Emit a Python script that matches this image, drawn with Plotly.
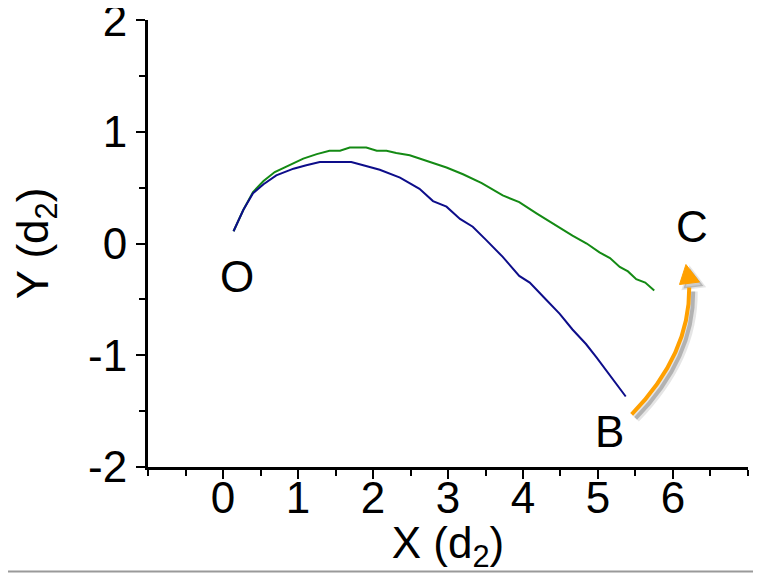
import plotly.graph_objects as go

# ---- data ----
green_x = [0.14, 0.27, 0.40, 0.54, 0.69, 0.85, 1.07, 1.25, 1.42, 1.56, 1.69, 1.91, 2.05, 2.18,
           2.31, 2.49, 2.71, 2.98, 3.20, 3.45, 3.73, 3.95, 4.18, 4.42, 4.66, 4.85, 5.02, 5.16,
           5.29, 5.40, 5.51, 5.63, 5.75]
green_y = [0.11, 0.30, 0.46, 0.56, 0.64, 0.69, 0.76, 0.80, 0.83, 0.83, 0.86, 0.86, 0.83, 0.83,
           0.81, 0.79, 0.74, 0.68, 0.62, 0.54, 0.43, 0.37, 0.27, 0.17, 0.07, 0.00, -0.08, -0.13,
           -0.21, -0.25, -0.32, -0.35, -0.42]

blue_x = [0.14, 0.27, 0.40, 0.54, 0.71, 0.94, 1.11, 1.29, 1.42, 1.71, 1.87, 2.09, 2.36, 2.62,
          2.80, 2.98, 3.16, 3.33, 3.51, 3.73, 3.95, 4.09, 4.29, 4.49, 4.66, 4.84, 4.98, 5.11,
          5.24, 5.37]
blue_y = [0.11, 0.30, 0.45, 0.53, 0.61, 0.67, 0.70, 0.73, 0.73, 0.73, 0.70, 0.66, 0.59, 0.49,
          0.38, 0.33, 0.22, 0.15, 0.03, -0.12, -0.29, -0.35, -0.49, -0.63, -0.77, -0.90, -1.02,
          -1.14, -1.25, -1.37]

x_tickvals = [0, 1, 2, 3, 4, 5, 6]
x_ticktext = ["0", "1", "2", "3", "4", "5", "6"]
y_tickvals = [-2, -1, 0, 1, 2]
y_ticktext = ["-2", "-1", "0", "1", "2"]

point_labels = ["O", "B", "C"]
point_x = [0.19, 5.16, 6.25]
point_y = [-0.30, -1.69, 0.14]

FONT = "Liberation Sans, Arial, sans-serif"
FS = 44

fig = go.Figure()
fig.add_trace(go.Scatter(x=green_x, y=green_y, mode="lines",
                         line=dict(color="#148a14", width=2), showlegend=False))
fig.add_trace(go.Scatter(x=blue_x, y=blue_y, mode="lines",
                         line=dict(color="#0d0d8a", width=2), showlegend=False))

for t, x, y in zip(point_labels, point_x, point_y):
    fig.add_annotation(x=x, y=y, text=t, showarrow=False, yshift=1,
                       font=dict(family=FONT, size=FS, color="black"))

# curved orange arrow B -> C with soft shadow
arc = "M 5.449,-1.530 Q 6.227,-0.993 6.217,-0.394"
head = "M 6.173,-0.188 L 6.087,-0.367 L 6.353,-0.345 Z"
dx, dy = 0.053, -0.036
arc_s = f"M {5.449+dx},{-1.530+dy} Q {6.227+dx},{-0.993+dy} {6.217+dx},{-0.394+dy}"
head_s = (f"M {6.173+dx},{-0.188+dy} L {6.087+dx},{-0.367+dy} "
          f"L {6.353+dx},{-0.345+dy} Z")
shapes = [
    dict(type="path", path=arc_s, line=dict(color="rgba(0,0,0,0.10)", width=9)),
    dict(type="path", path=arc_s, line=dict(color="rgba(0,0,0,0.22)", width=4)),
    dict(type="path", path=head_s, fillcolor="rgba(0,0,0,0.2)",
         line=dict(color="rgba(0,0,0,0.1)", width=3)),
    dict(type="path", path=arc, line=dict(color="#ffa000", width=4)),
    dict(type="path", path=head, fillcolor="#ffa000", line=dict(color="#ffa000", width=1)),
]
for s in shapes:
    s["xref"] = "x"
    s["yref"] = "y"

# page has an 8px body margin: figure size / margins chosen so the plot area lands
# at x 148..748, y 20..467 of the 761x574 window
OFF = 8
W, H = 761 - OFF, 574 - OFF
L, T = 148 - OFF, 20 - OFF
R = W - (748 - OFF)
B = H - (467 - OFF)
pw, ph = W - L - R, H - T - B
ybot = -((571.5 - OFF) - (H - B)) / ph
shapes.append(dict(type="line", xref="paper", yref="paper",
                   x0=-L / pw, x1=(W - L) / pw, y0=ybot, y1=ybot,
                   line=dict(color="#9a9a9a", width=2)))
fig.update_layout(shapes=shapes)

axis_common = dict(showline=True, linecolor="black", linewidth=3, ticks="outside",
                   ticklen=9, tickwidth=2, tickcolor="black", showgrid=False,
                   zeroline=False, mirror=False, automargin=False,
                   ticklabeloverflow="allow",
                   tickfont=dict(family=FONT, size=FS, color="black"))
fig.update_xaxes(range=[-1.0005, 7.0005], tickvals=x_tickvals, ticktext=x_ticktext,
                 ticklabelstandoff=-19,
                 minor=dict(dtick=0.5, tick0=0, ticks="outside", ticklen=6, tickwidth=2,
                            tickcolor="black", showgrid=False),
                 title=dict(text="X (d<sub>2</sub>)", font=dict(family=FONT, size=FS, color="black"),
                            standoff=6),
                 **axis_common)
fig.update_yaxes(range=[-2.001, 2.001], tickvals=y_tickvals, ticktext=y_ticktext,
                 minor=dict(dtick=0.5, tick0=0, ticks="outside", ticklen=6, tickwidth=2,
                            tickcolor="black", showgrid=False),
                 title=dict(text="Y (d<sub>2</sub>)", font=dict(family=FONT, size=FS, color="black"),
                            standoff=35),
                 **axis_common)

fig.update_layout(width=W, height=H, margin=dict(l=L, r=R, t=T, b=B, autoexpand=False),
                  plot_bgcolor="white", paper_bgcolor="white",
                  font=dict(family=FONT, size=FS, color="black"))
fig.write_html("out.html")
